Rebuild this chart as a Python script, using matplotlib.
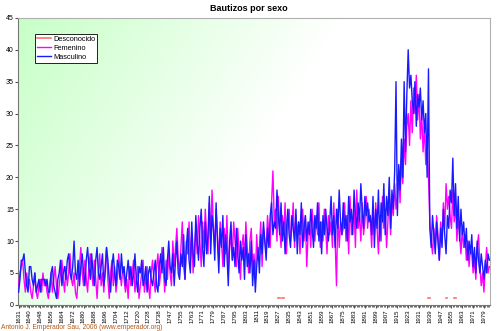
import numpy as np
import matplotlib
matplotlib.use("Agg")
import matplotlib.pyplot as plt

plt.rcParams["font.family"] = ["Liberation Sans", "DejaVu Sans"]

# category labels: years (a few years missing from the register)
missing = [1635, 1730, 1734, 1742]
years = [y for y in range(1631, 1984) if y not in missing]

masculino = [
    2, 4, 7, 7, 8, 5, 3, 2, 6, 6, 4, 3, 5, 2, 3, 4, 2, 4, 4, 4,
    3, 4, 2, 2, 5, 6, 3, 2, 1, 4, 5, 7, 3, 5, 6, 4, 7, 8, 5, 4,
    6, 10, 5, 4, 7, 3, 6, 8, 5, 3, 7, 9, 6, 4, 8, 5, 3, 7, 9, 5,
    4, 6, 8, 3, 5, 9, 7, 4, 2, 6, 8, 5, 3, 7, 6, 4, 8, 5, 6, 3,
    5, 7, 4, 6, 3, 5, 8, 4, 2, 6, 5, 7, 3, 4, 6, 2, 5, 6, 4, 3,
    5, 7, 3, 2, 6, 8, 5, 9, 4, 3, 7, 10, 6, 5, 8, 3, 7, 10, 5, 4,
    8, 6, 11, 4, 9, 12, 7, 5, 13, 8, 6, 14, 10, 7, 12, 15, 9, 6, 13, 8,
    11, 17, 8, 14, 12, 7, 16, 10, 5, 12, 9, 14, 6, 11, 8, 3, 10, 13, 7, 9,
    6, 12, 8, 5, 10, 7, 9, 4, 11, 6, 8, 5, 10, 3, 7, 2, 6, 9, 5, 11,
    8, 13, 10, 7, 12, 9, 14, 16, 11, 13, 12, 18, 14, 11, 16, 10, 13, 8, 12, 15,
    11, 9, 14, 12, 10, 15, 8, 13, 11, 16, 9, 12, 14, 10, 13, 11, 15, 12, 9, 14,
    12, 16, 10, 13, 8, 14, 11, 15, 12, 10, 13, 17, 11, 14, 9, 15, 12, 18, 13, 11,
    16, 12, 14, 10, 17, 13, 15, 11, 18, 14, 12, 16, 13, 19, 15, 12, 17, 14, 16, 13,
    14, 11, 17, 9, 15, 12, 18, 10, 16, 13, 19, 11, 17, 14, 20, 12, 18, 15, 21, 35,
    14, 22, 18, 26, 20, 35, 24, 33, 40, 34, 36, 32, 30, 35, 28, 33, 31, 34, 29, 32,
    27, 30, 20, 37, 12, 9, 14, 11, 8, 13, 10, 7, 12, 9, 15, 11, 8, 14, 12, 18,
    16, 23, 14, 19, 12, 17, 10, 15, 11, 13, 9, 12, 7, 10, 8, 11, 6, 9, 5, 10,
    7, 5, 8, 6, 4, 7, 5, 8, 7,
]

femenino = [
    3, 5, 6, 7, 4, 2, 5, 3, 4, 2, 1, 3, 5, 2, 1, 3, 4, 2, 5, 3,
    4, 2, 1, 3, 5, 2, 4, 6, 3, 1, 3, 5, 7, 4, 2, 6, 3, 5, 8, 4,
    3, 5, 2, 1, 4, 6, 9, 5, 3, 7, 4, 2, 6, 8, 5, 3, 7, 4, 1, 5,
    8, 3, 5, 2, 6, 9, 4, 1, 5, 7, 3, 6, 2, 4, 8, 5, 3, 6, 4, 2,
    4, 1, 6, 3, 5, 7, 2, 4, 6, 1, 3, 5, 7, 2, 4, 6, 3, 1, 5, 7,
    4, 2, 6, 8, 3, 5, 9, 6, 2, 7, 4, 8, 5, 3, 10, 6, 9, 12, 7, 5,
    9, 13, 6, 4, 10, 8, 13, 7, 11, 5, 9, 12, 8, 14, 10, 6, 13, 9, 15, 11,
    8, 16, 10, 18, 12, 9, 15, 11, 7, 13, 10, 6, 12, 8, 14, 5, 9, 11, 7, 13,
    10, 6, 12, 8, 4, 9, 11, 7, 13, 9, 5, 10, 12, 6, 8, 4, 11, 7, 9, 13,
    6, 12, 10, 8, 14, 11, 9, 16, 21, 13, 15, 10, 17, 12, 9, 14, 11, 16, 8, 13,
    15, 10, 12, 16, 9, 14, 11, 13, 8, 12, 15, 10, 14, 6, 11, 13, 9, 15, 12, 10,
    14, 11, 16, 9, 13, 10, 15, 12, 8, 14, 11, 13, 9, 16, 10, 3, 15, 9, 13, 11,
    12, 16, 10, 14, 8, 17, 11, 13, 15, 9, 18, 12, 14, 10, 16, 11, 13, 17, 12, 15,
    13, 9, 15, 11, 16, 12, 8, 14, 10, 17, 12, 15, 9, 13, 18, 11, 16, 14, 19, 15,
    17, 21, 16, 23, 19, 26, 22, 28, 30, 25, 32, 27, 34, 30, 36, 29, 33, 26, 30, 24,
    28, 22, 25, 20, 13, 10, 8, 12, 9, 14, 11, 7, 13, 10, 16, 12, 19, 15, 17, 14,
    12, 18, 13, 16, 10, 14, 11, 8, 12, 9, 11, 7, 10, 6, 9, 8, 5, 7, 4, 9,
    11, 6, 3, 5, 2, 6, 9, 5, 6,
]

# unknown-sex baptisms (only a handful of years)
desc_years = [1827, 1828, 1830, 1831, 1938, 1939, 1951, 1952, 1957, 1958]
desc_vals = [1, 1, 1, 1, 1, 1, 1, 1, 1, 1]


def main():
    n = len(years)
    x = np.arange(n)
    desconocido = np.full(n, np.nan)
    for yr, v in zip(desc_years, desc_vals):
        desconocido[years.index(yr)] = v

    fig = plt.figure(figsize=(4.98, 3.31), dpi=100)
    ax = fig.add_axes([0.036, 0.079, 0.948, 0.867])

    # green -> white background gradient
    gx, gy = np.meshgrid(np.linspace(0, 1, 200), np.linspace(1, 0, 100))
    s = np.clip(gx * 1.45 + (1 - gy) * 0.55, 0, 1)
    green = np.array([0.78, 1.0, 0.78])
    img = green[None, None, :] * (1 - s[..., None]) + s[..., None]
    ax.imshow(img, extent=[-0.5, n - 0.5, 0, 45], aspect="auto", zorder=0)

    ax.plot(x, desconocido, color="#ff7070", lw=1.2, label="Desconocido", zorder=2)
    ax.plot(x, femenino, color="#ff00ff", lw=1.0, label="Femenino", zorder=3)
    ax.plot(x, masculino, color="#1a1aff", lw=1.0, label="Masculino", zorder=4)

    ax.set_xlim(-0.5, n - 0.5)
    ax.set_ylim(0, 45)
    ax.set_yticks(range(0, 46, 5))
    ax.tick_params(axis="y", labelsize=5, length=2, pad=1, color="#555555")
    ax.set_xticks(x[::8])
    ax.set_xticklabels([str(years[i]) for i in x[::8]], rotation=90, fontsize=4.4)
    ax.set_xticks(x, minor=True)
    ax.tick_params(axis="x", which="major", length=2, pad=1, color="#555555")
    ax.tick_params(axis="x", which="minor", length=1.5, color="#555555")

    for side in ["top", "right"]:
        ax.spines[side].set_color("#b0b0b0")
    for side in ["left", "bottom"]:
        ax.spines[side].set_color("#777777")

    leg = ax.legend(loc="upper left", bbox_to_anchor=(0.036, 0.944), fontsize=5.3,
                    frameon=True, fancybox=False, handlelength=2.0,
                    borderpad=0.25, labelspacing=0.25, handletextpad=0.2,
                    borderaxespad=0)
    leg.get_frame().set_edgecolor("black")
    leg.get_frame().set_linewidth(0.6)
    leg.get_frame().set_facecolor("white")
    leg.get_frame().set_alpha(1)

    fig.text(0.5, 0.975, "Bautizos por sexo", ha="center", va="center",
             fontsize=6.5, fontweight="bold")
    fig.text(0.003, 0.001, "Antonio J. Emperador Sau, 2006 (www.emperador.org)",
             ha="left", va="bottom", fontsize=4.8, color="#b05a1a")

    fig.savefig("out.png", dpi=100)


if __name__ == "__main__":
    main()
